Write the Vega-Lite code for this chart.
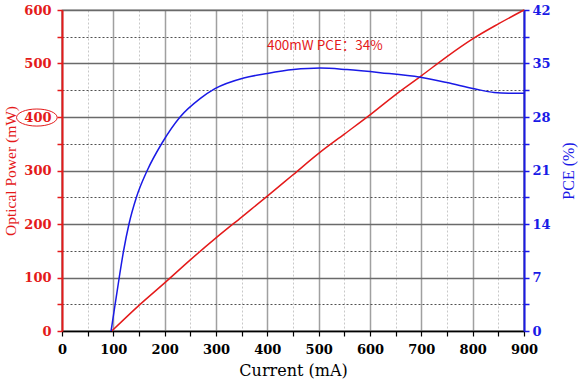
{
  "$schema": "https://vega.github.io/schema/vega-lite/v6.json",
  "width": 462,
  "height": 321,
  "autosize": {"type": "none"},
  "padding": {"left": 62, "top": 10, "right": 59, "bottom": 49},
  "background": "white",
  "config": {
    "view": {"stroke": "black", "strokeWidth": 1.2},
    "axis": {"labelFont": "DejaVu Serif", "labelFontWeight": "bold", "labelFontSize": 13, "titleFont": "Liberation Serif", "titleFontSize": 16, "titleFontWeight": "normal", "tickSize": 5, "labelFlush": false, "labelOverlap": false}
  },
  "datasets": {
    "power": [
      {"current": 97, "power": 0},
      {"current": 150, "power": 48},
      {"current": 200, "power": 90},
      {"current": 250, "power": 133},
      {"current": 300, "power": 174},
      {"current": 350, "power": 213},
      {"current": 400, "power": 252},
      {"current": 450, "power": 292},
      {"current": 500, "power": 332},
      {"current": 550, "power": 368},
      {"current": 600, "power": 404},
      {"current": 650, "power": 442},
      {"current": 700, "power": 477},
      {"current": 750, "power": 513},
      {"current": 800, "power": 546},
      {"current": 850, "power": 574},
      {"current": 900, "power": 600}
    ],
    "pce": [
      {"current": 95.6, "pce": 0},
      {"current": 103.5, "pce": 3.5},
      {"current": 111.5, "pce": 7},
      {"current": 120, "pce": 10.5},
      {"current": 130.5, "pce": 14},
      {"current": 145, "pce": 17.5},
      {"current": 166, "pce": 21},
      {"current": 194, "pce": 24.5},
      {"current": 230, "pce": 28.0},
      {"current": 269, "pce": 30.4},
      {"current": 298, "pce": 31.7},
      {"current": 354, "pce": 33.1},
      {"current": 400, "pce": 33.7},
      {"current": 451, "pce": 34.2},
      {"current": 503, "pce": 34.4},
      {"current": 555, "pce": 34.2},
      {"current": 620, "pce": 33.8},
      {"current": 698, "pce": 33.2},
      {"current": 750, "pce": 32.5},
      {"current": 803, "pce": 31.7},
      {"current": 842, "pce": 31.2},
      {"current": 870, "pce": 31.1},
      {"current": 900, "pce": 31.1}
    ],
    "notes": [
      {"current": 512, "power": 532, "label": "400mW PCE：34%"}
    ],
    "marker": [
      {"current": -49, "power": 399}
    ]
  },
  "encoding": {
    "x": {
      "field": "current", "type": "quantitative",
      "scale": {"domain": [0, 900], "nice": false, "zero": false},
      "axis": {
        "title": "Current (mA)",
        "titleFont": "DejaVu Serif", "titleFontSize": 16,
        "values": [0, 50, 100, 150, 200, 250, 300, 350, 400, 450, 500, 550, 600, 650, 700, 750, 800, 850, 900],
        "labelExpr": "datum.value % 100 === 0 ? datum.label : ''",
        "domainColor": "black", "domainWidth": 1.5,
        "tickColor": "black", "tickWidth": 1.2,
        "labelColor": "black", "titleColor": "black",
        "labelPadding": 7, "titlePadding": 6,
        "grid": true,
        "gridColor": {"condition": {"test": "datum.value % 100 === 0", "value": "#a0a0a0"}, "value": "#c8c8c8"},
        "gridDash": {"condition": {"test": "datum.value % 100 === 0", "value": []}, "value": [2, 2]},
        "gridWidth": {"condition": {"test": "datum.value % 100 === 0", "value": 1.5}, "value": 1}
      }
    }
  },
  "layer": [
    {
      "encoding": {
        "y": {
          "field": "power", "type": "quantitative",
          "scale": {"domain": [0, 600], "nice": false},
          "axis": {
            "title": "Optical Power (mW)",
            "titleFontSize": 15.5,
            "orient": "left",
            "values": [0, 50, 100, 150, 200, 250, 300, 350, 400, 450, 500, 550, 600],
            "labelExpr": "datum.value % 100 === 0 ? datum.label : ''",
            "domainColor": "#e41a1a", "domainWidth": 2,
            "tickColor": "#e41a1a", "tickWidth": 1.5,
            "labelColor": "#e41a1a", "titleColor": "#e41a1a",
            "labelPadding": 6, "titlePadding": 5,
            "grid": true,
            "gridColor": {"condition": {"test": "datum.value % 100 === 0", "value": "#6a6a6a"}, "value": "#505050"},
            "gridDash": {"condition": {"test": "datum.value % 100 === 0", "value": []}, "value": [2, 2]},
            "gridWidth": {"condition": {"test": "datum.value % 100 === 0", "value": 1.5}, "value": 1}
          }
        }
      },
      "layer": [
        {
          "data": {"name": "power"},
          "mark": {"type": "line", "color": "#e41a1a", "strokeWidth": 1.5, "interpolate": "monotone"}
        },
        {
          "data": {"name": "notes"},
          "mark": {"type": "text", "color": "#e41a1a", "font": "Noto Sans CJK SC", "fontSize": 13.5, "align": "center", "baseline": "middle"},
          "encoding": {
            "text": {"field": "label"}
          }
        },
        {
          "data": {"name": "marker"},
          "mark": {"type": "point", "shape": "M -1 0 A 1 0.42 0 1 0 1 0 A 1 0.42 0 1 0 -1 0 Z", "size": 1650, "color": "#e41a1a", "strokeWidth": 1, "filled": false, "opacity": 1, "clip": false}
        }
      ]
    },
    {
      "data": {"name": "pce"},
      "mark": {"type": "line", "color": "#1a1ae6", "strokeWidth": 1.5, "interpolate": "monotone"},
      "encoding": {
        "y": {
          "field": "pce", "type": "quantitative",
          "scale": {"domain": [0, 42], "nice": false},
          "axis": {
            "title": "PCE (%)",
            "orient": "right",
            "values": [0, 3.5, 7, 10.5, 14, 17.5, 21, 24.5, 28, 31.5, 35, 38.5, 42],
            "labelExpr": "datum.value % 7 === 0 ? datum.label : ''",
            "domainColor": "#1a1ae6", "domainWidth": 2,
            "tickColor": "#1a1ae6", "tickWidth": 1.5,
            "labelColor": "#1a1ae6", "titleColor": "#1a1ae6",
            "labelPadding": 3, "titlePadding": 10,
            "titleAngle": 270, "titleBaseline": "top",
            "grid": false
          }
        }
      }
    }
  ],
  "resolve": {"scale": {"y": "independent"}}
}
